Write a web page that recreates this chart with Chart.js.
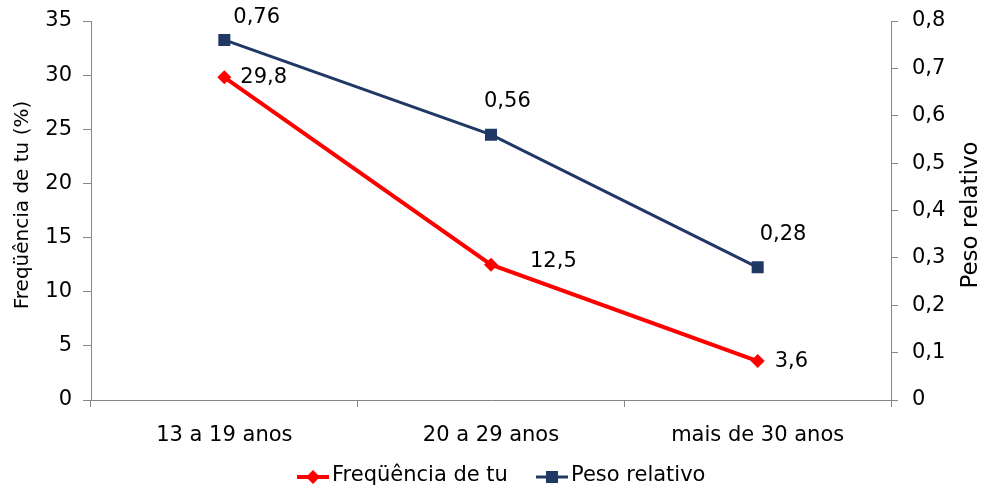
<!DOCTYPE html>
<html><head><meta charset="utf-8">
<script src="https://cdn.jsdelivr.net/npm/chart.js@4.4.0/dist/chart.umd.min.js"></script>
<style>html,body{margin:0;padding:0;background:#fff}#wrap{width:982px;height:491px;position:relative}</style>
</head><body><div id="wrap"><canvas id="c"></canvas></div>
<script>
const categories = ['13 a 19 anos', '20 a 29 anos', 'mais de 30 anos'];
const freqValues = [29.8, 12.5, 3.6];
const pesoValues = [0.76, 0.56, 0.28];
const leftTickLabels = ['0', '5', '10', '15', '20', '25', '30', '35'];
const rightTickLabels = ['0', '0,1', '0,2', '0,3', '0,4', '0,5', '0,6', '0,7', '0,8'];
const seriesNames = ['Freqüência de tu', 'Peso relativo'];
const axisTitles = ['Freqüência de tu (%)', 'Peso relativo'];

const FONT = "'DejaVu Sans', Verdana, sans-serif";
const RED = '#FF0000';
const BLUE = '#1F3864';
const AXIS = '#868686';

Chart.defaults.font.family = FONT;
Chart.defaults.font.size = 21;
Chart.defaults.color = '#000';

const fmt = v => String(v).replace('.', ',');

// label offsets (px) relative to each point: [dx, dy]
const labelOffsets = [
  [[16, 0], [39, -3], [17, 1]],
  [[9, -22], [-7, -33], [2, -33]]
];

const extras = {
  id: 'extras',
  afterDatasetsDraw(chart) {
    const ctx = chart.ctx;
    ctx.save();
    ctx.font = '21px ' + FONT;
    ctx.fillStyle = '#000';
    ctx.textAlign = 'left';
    ctx.textBaseline = 'middle';
    chart.data.datasets.forEach((ds, di) => {
      const meta = chart.getDatasetMeta(di);
      meta.data.forEach((pt, i) => {
        const o = labelOffsets[di][i];
        ctx.fillText(fmt(ds.data[i]), pt.x + o[0], pt.y + o[1]);
      });
    });
    ctx.restore();
  },
  afterDraw(chart) {
    const ctx = chart.ctx;
    ctx.save();
    ctx.fillStyle = '#000';
    ctx.textAlign = 'center';
    ctx.textBaseline = 'middle';
    // left title
    ctx.font = '20px ' + FONT;
    ctx.save();
    ctx.translate(23, 205);
    ctx.rotate(-Math.PI / 2);
    ctx.fillText(axisTitles[0], 0, 0);
    ctx.restore();
    // right title (reads bottom to top)
    ctx.font = '23px ' + FONT;
    ctx.save();
    ctx.translate(971, 215);
    ctx.rotate(-Math.PI / 2);
    ctx.fillText(axisTitles[1], 0, 0);
    ctx.restore();
    // legend
    ctx.font = '21px ' + FONT;
    ctx.textAlign = 'left';
    const items = [
      {x: 297, ds: chart.data.datasets[0]},
      {x: 536, ds: chart.data.datasets[1]}
    ];
    const ly = 476;
    items.forEach((it) => {
      const ds = it.ds;
      ctx.strokeStyle = ds.borderColor;
      ctx.lineWidth = ds.borderWidth;
      ctx.beginPath();
      ctx.moveTo(it.x, ly + 1);
      ctx.lineTo(it.x + 32, ly + 1);
      ctx.stroke();
      ctx.fillStyle = ds.pointBackgroundColor;
      const cx = it.x + 16;
      if (ds.pointStyle === 'rectRot') {
        const r = ds.pointRadius;
        ctx.beginPath();
        ctx.moveTo(cx, ly + 1 - r);
        ctx.lineTo(cx + r, ly + 1);
        ctx.lineTo(cx, ly + 1 + r);
        ctx.lineTo(cx - r, ly + 1);
        ctx.closePath();
        ctx.fill();
      } else {
        const s = ds.pointRadius * Math.SQRT1_2;
        ctx.fillRect(cx - s, ly + 1 - s, 2 * s, 2 * s);
      }
      ctx.fillStyle = '#000';
      ctx.fillText(ds.label, it.x + 35, ly);
    });
    ctx.restore();
  }
};

const fitY = s => { s.width = 91; s.paddingTop = 0; s.paddingBottom = 0; };

new Chart(document.getElementById('c'), {
  type: 'line',
  data: {
    labels: categories,
    datasets: [
      {
        label: seriesNames[0], data: freqValues, yAxisID: 'y',
        borderColor: RED, backgroundColor: RED, borderWidth: 4,
        pointStyle: 'rectRot', pointRadius: 7, pointHoverRadius: 7,
        pointBackgroundColor: RED, pointBorderColor: RED, pointBorderWidth: 0,
        tension: 0
      },
      {
        label: seriesNames[1], data: pesoValues, yAxisID: 'y1',
        borderColor: BLUE, backgroundColor: BLUE, borderWidth: 3,
        pointStyle: 'rect', pointRadius: 8.5, pointHoverRadius: 8.5,
        pointBackgroundColor: BLUE, pointBorderColor: BLUE, pointBorderWidth: 0,
        tension: 0
      }
    ]
  },
  options: {
    responsive: true,
    maintainAspectRatio: false,
    animation: false,
    layout: {padding: {top: 21, left: 0, right: 0, bottom: 0}},
    plugins: {legend: {display: false}, tooltip: {enabled: false}},
    scales: {
      x: {
        type: 'category', offset: true,
        grid: {offset: true, drawOnChartArea: false, drawTicks: true, tickLength: 7, color: AXIS},
        border: {color: AXIS, width: 1},
        ticks: {padding: 16, maxRotation: 0, autoSkip: false, color: '#000'},
        afterFit: s => { s.height = 91; s.paddingLeft = 0; s.paddingRight = 0; }
      },
      y: {
        position: 'left', min: 0, max: 35,
        grid: {drawOnChartArea: false, drawTicks: true, tickLength: 8, color: AXIS},
        border: {color: AXIS, width: 1},
        ticks: {stepSize: 5, padding: 11, color: '#000', callback: (v, i) => leftTickLabels[i]},
        afterFit: fitY
      },
      y1: {
        position: 'right', min: 0, max: 0.8,
        grid: {drawOnChartArea: false, drawTicks: true, tickLength: 7, color: AXIS},
        border: {color: AXIS, width: 1},
        ticks: {stepSize: 0.1, padding: 14, color: '#000', callback: (v, i) => rightTickLabels[i]},
        afterFit: fitY
      }
    }
  },
  plugins: [extras]
});
</script>
</body></html>
